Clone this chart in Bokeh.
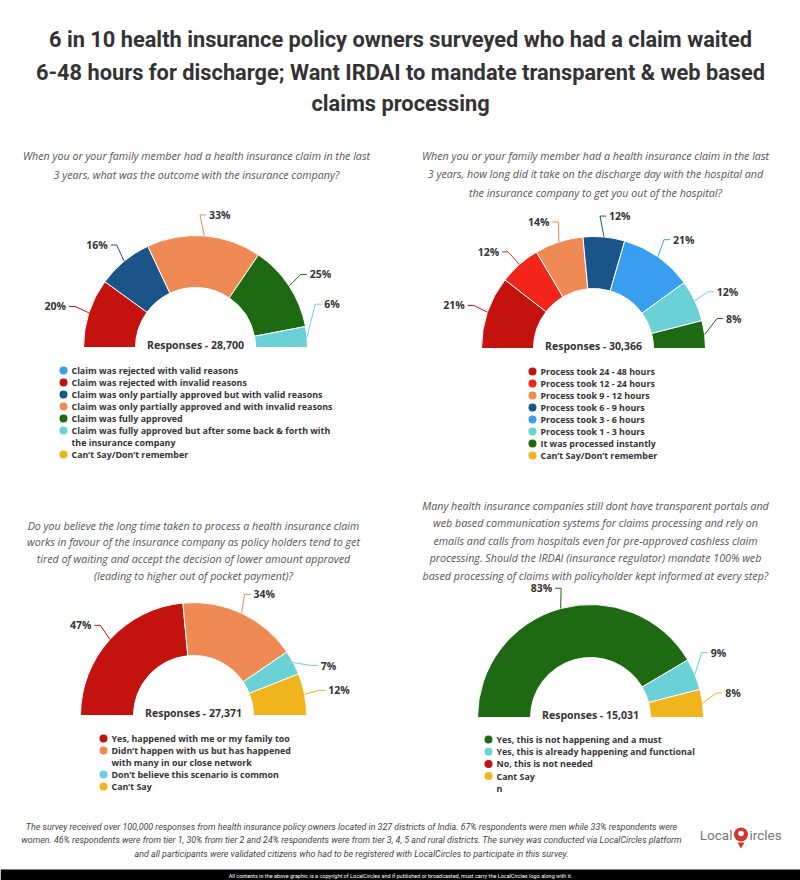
import math
from bokeh.plotting import figure
from bokeh.models import Range1d
from bokeh.core.properties import value
from bokeh.embed import file_html
from bokeh.resources import INLINE

# ---------------- data ----------------
TITLE_LINES = [
    "6 in 10 health insurance policy owners surveyed who had a claim waited",
    "6-48 hours for discharge; Want IRDAI to mandate transparent & web based",
    "claims processing",
]

Q1_QUESTION = [
    "When you or your family member had a health insurance claim in the last",
    "3 years, what was the outcome with the insurance company?",
]
Q1_OPTIONS = [
    "Claim was rejected with valid reasons",
    "Claim was rejected with invalid reasons",
    "Claim was only partially approved but with valid reasons",
    "Claim was only partially approved and with invalid reasons",
    "Claim was fully approved",
    "Claim was fully approved but after some back & forth with\nthe insurance company",
    "Can\u2019t Say/Don\u2019t remember",
]
Q1_PCT = [0, 20, 16, 33, 25, 6, 0]
Q1_RESPONSES = "28,700"

Q2_QUESTION = [
    "When you or your family member had a health insurance claim in the last",
    "3 years, how long did it take on the discharge day with the hospital and",
    "the insurance company to get you out of the hospital?",
]
Q2_OPTIONS = [
    "Process took 24 - 48 hours",
    "Process took 12 - 24 hours",
    "Process took 9 - 12 hours",
    "Process took 6 - 9 hours",
    "Process took 3 - 6 hours",
    "Process took 1 - 3 hours",
    "It was processed instantly",
    "Can\u2019t Say/Don\u2019t remember",
]
Q2_PCT = [21, 12, 14, 12, 21, 12, 8, 0]
Q2_RESPONSES = "30,366"

Q3_QUESTION = [
    "Do you believe the long time taken to process a health insurance claim",
    "works in favour of the insurance company as policy holders tend to get",
    "tired of waiting and accept the decision of lower amount approved",
    "(leading to higher out of pocket payment)?",
]
Q3_OPTIONS = [
    "Yes, happened with me or my family too",
    "Didn\u2019t happen with us but has happened\nwith many in our close network",
    "Don\u2019t believe this scenario is common",
    "Can\u2019t Say",
]
Q3_PCT = [47, 34, 7, 12]
Q3_RESPONSES = "27,371"

Q4_QUESTION = [
    "Many health insurance companies still dont have transparent portals and",
    "web based communication systems for claims processing and rely on",
    "emails and calls from hospitals even for pre-approved cashless claim",
    "processing. Should the IRDAI (insurance regulator) mandate 100% web",
    "based processing of claims with policyholder kept informed at every step?",
]
Q4_OPTIONS = [
    "Yes, this is not happening and a must",
    "Yes, this is already happening and functional",
    "No, this is not needed",
    "Cant Say",
    "n",
]
Q4_PCT = [83, 9, 0, 8]
Q4_RESPONSES = "15,031"

FOOTER_LINES = [
    "The survey received over 100,000 responses from health insurance policy owners located in 327 districts of India. 67% respondents were men while 33% respondents were",
    "women. 46% respondents were from tier 1, 30% from tier 2 and 24% respondents were from tier 3, 4, 5 and rural districts. The survey was conducted via LocalCircles platform",
    "and all participants were validated citizens who had to be registered with LocalCircles to participate in this survey.",
]
COPYRIGHT = ("All contents in the above graphic is a copyright of LocalCircles and if published or "
             "broadcasted, must carry the LocalCircles logo along with it.")

# ---------------- styles ----------------
RED = "#c4130f"
BRIGHT_RED = "#f3251a"
ORANGE = "#f08a55"
DARK_BLUE = "#1b5488"
LIGHT_BLUE = "#399ef0"
CYAN = "#6ad2d6"
GREEN = "#1d6a12"
YELLOW = "#f0b41c"
TEXT = "#333333"
QTEXT = "#555555"

Q1_COLORS = [LIGHT_BLUE, RED, DARK_BLUE, ORANGE, GREEN, CYAN, YELLOW]
Q2_COLORS = [RED, BRIGHT_RED, ORANGE, DARK_BLUE, LIGHT_BLUE, CYAN, GREEN, YELLOW]
Q3_COLORS = [RED, ORANGE, CYAN, YELLOW]
Q4_COLORS = [GREEN, CYAN, RED, YELLOW, None]

# layout (reference pixel coordinates)
GEOM = [(195, 347, 112, 60), (593, 348, 112, 60), (193, 715, 113, 60), (590, 717, 113, 60)]
Q_POS = [(196, 155, 19), (595, 155, 18.5), (193, 525, 16.8), (595, 505, 17.5)]
LEG_POS = [(63, 370, 12), (532, 371, 12), (103, 738, 12), (488, 739, 12.2)]
LABEL_ADJ = [{5: 13.6}, {6: 5.8, 1: 2.0}, {2: -6.0}, {1: 6.5, 3: 3.3}]

W, H = 800, 880


def Y(py):
    return H - py


p = figure(width=W, height=H, x_range=Range1d(0, W), y_range=Range1d(0, H),
           output_backend="svg", toolbar_location=None, min_border=0)
p.axis.visible = False
p.grid.visible = False
p.outline_line_color = None
p.background_fill_color = "white"
p.border_fill_color = "white"


def txt(x, y, s, size, color=TEXT, font="Open Sans", style="normal", align="center", baseline="middle"):
    p.text(x=[x], y=[y], text=[s], text_font=value(font), text_font_size=size,
           text_font_style=style, text_color=color, text_align=align, text_baseline=baseline)


# title
TITLE_Y = [39, 72, 103]
for line, ty in zip(TITLE_LINES, TITLE_Y):
    txt(400, Y(ty), line, "21.8px", color="#333333", font="Roboto", style="bold")


def draw_block(idx, question, options, pcts, colors, responses):
    cx, cy, ro, ri = GEOM[idx]
    qx, qy, qstep = Q_POS[idx]
    for k, line in enumerate(question):
        txt(qx, Y(qy + k * qstep), line, "10.7px", color=QTEXT, style="italic")

    total = float(sum(pcts))
    ang = 180.0
    adj = LABEL_ADJ[idx]
    for i, v in enumerate(pcts):
        if v == 0:
            continue
        sweep = 180.0 * v / total
        a1, a2 = ang, ang - sweep
        p.annular_wedge(x=[cx], y=[Y(cy)], inner_radius=ri, outer_radius=ro,
                        start_angle=math.radians(a2), end_angle=math.radians(a1),
                        fill_color=colors[i], line_color="white", line_width=1)
        mid = (a1 + a2) / 2.0
        la = mid + adj.get(i, 0.0)
        sx = cx + ro * math.cos(math.radians(mid))
        sy = Y(cy) + ro * math.sin(math.radians(mid))
        ex = cx + (ro + 21) * math.cos(math.radians(la))
        ey = Y(cy) + (ro + 21) * math.sin(math.radians(la))
        side = 1 if math.cos(math.radians(la)) >= 0 else -1
        bx = ex - side * 6
        p.line(x=[sx, bx, ex], y=[sy, ey, ey], line_color=colors[i], line_width=1)
        txt(ex + side * 3, ey, f"{v}%", "10.5px", style="bold",
            align="left" if side > 0 else "right")
        ang = a2

    txt(cx, Y(cy - 3), f"Responses - {responses}", "10.5px", style="bold")

    lx, ly, lstep = LEG_POS[idx]
    row = 0
    for opt, col in zip(options, colors):
        if col is not None:
            p.scatter(x=[lx], y=[Y(ly + row * lstep)], size=8, fill_color=col, line_color=None)
        for line in opt.split("\n"):
            txt(lx + 8, Y(ly + row * lstep), line, "8.9px", style="bold", align="left")
            row += 1


draw_block(0, Q1_QUESTION, Q1_OPTIONS, Q1_PCT, Q1_COLORS, Q1_RESPONSES)
draw_block(1, Q2_QUESTION, Q2_OPTIONS, Q2_PCT, Q2_COLORS, Q2_RESPONSES)
draw_block(2, Q3_QUESTION, Q3_OPTIONS, Q3_PCT, Q3_COLORS, Q3_RESPONSES)
draw_block(3, Q4_QUESTION, Q4_OPTIONS, Q4_PCT + [0], Q4_COLORS, Q4_RESPONSES)

# footer
FOOT_Y = [826, 839, 853]
for line, fy in zip(FOOTER_LINES, FOOT_Y):
    txt(351, Y(fy), line, "8.9px", color="#444444", font="Roboto", style="italic")

# logo
txt(732, Y(834), "Local", "13.5px", color="#777777", font="Roboto", align="right")
p.scatter(x=[740.5], y=[Y(844)], size=7, marker="triangle", angle=math.pi, fill_color="#d2352c", line_color=None)
p.circle(x=[740.5], y=[Y(834)], radius=7, fill_color="#d2352c", line_color=None)
p.circle(x=[740.5], y=[Y(833)], radius=2.8, fill_color="white", line_color=None)
txt(749, Y(834), "ircles", "13.5px", color="#777777", font="Roboto", align="left")

# copyright bar
p.quad(left=[0], right=[W], bottom=[Y(880)], top=[Y(869)], fill_color="black", line_color=None)
txt(400, Y(875), COPYRIGHT, "5.5px", color="white", font="Roboto")

open("out.html", "w").write(file_html(p, INLINE))
